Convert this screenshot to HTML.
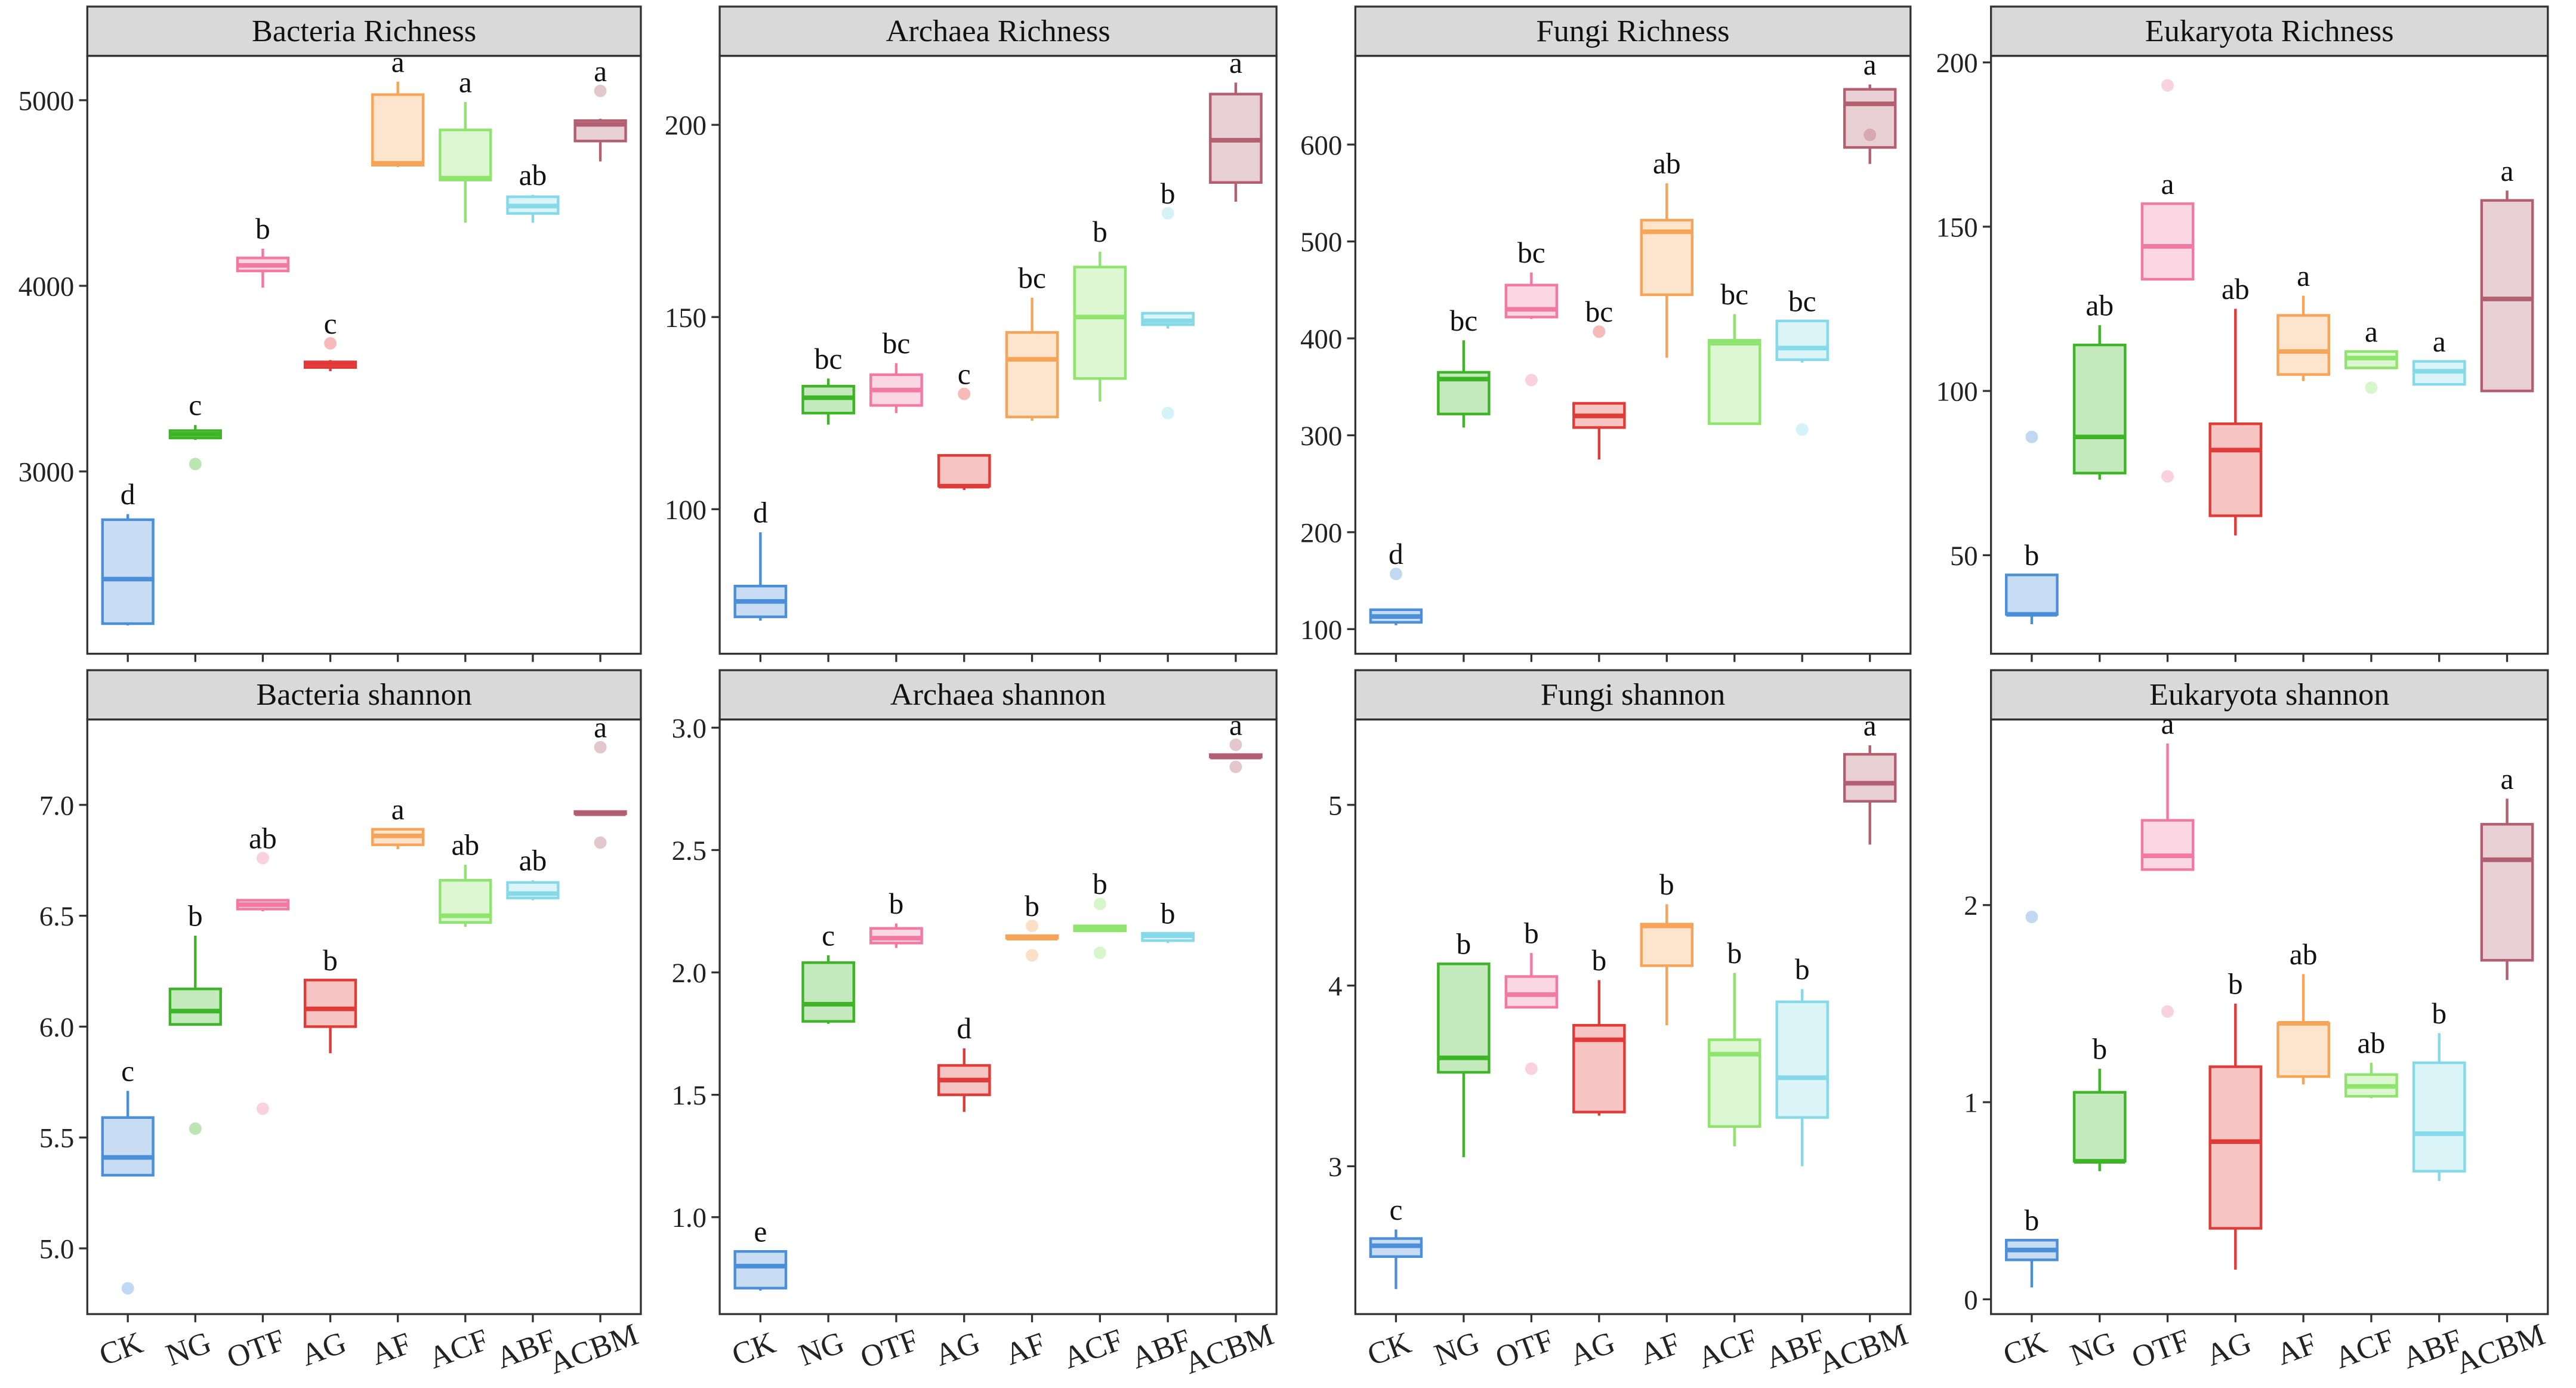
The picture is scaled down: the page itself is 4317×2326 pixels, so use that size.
<!DOCTYPE html>
<html><head><meta charset="utf-8">
<style>
html,body{margin:0;padding:0;background:#fff;}
svg{display:block;}
text{font-family:"Liberation Serif",serif;}
</style></head>
<body>
<svg id="chart" width="4317" height="2326" viewBox="0 0 1568 845" xmlns="http://www.w3.org/2000/svg"></svg>
<script>
const categories = ["CK","NG","OTF","AG","AF","ACF","ABF","ACBM"];
const colors = ["#4a8fd8","#3db526","#f27aa2","#e23a36","#f6a458","#8ee46c","#86d9e8","#b35f72"];
const panelTitles = ["Bacteria Richness","Archaea Richness","Fungi Richness","Eukaryota Richness","Bacteria shannon","Archaea shannon","Fungi shannon","Eukaryota shannon"];
const bacRichBoxes = [[2170,2180,2420,2740,2770],[3170,3180,3200,3220,3250],[3990,4080,4110,4150,4200],[3540,3560,3580,3590,3600],[4640,4650,4660,5030,5100],[4340,4570,4580,4840,4990],[4340,4390,4430,4480,4490],[4670,4780,4870,4890,4900]];
const bacRichOut = [[],[3040],[],[3690],[],[],[],[5050]];
const bacRichLetters = ["d","c","b","c","a","a","ab","a"];
const arcRichBoxes = [[71,72,76,80,94],[122,125,129,132,134],[125,127,131,135,138],[105,106,106,114,114],[123,124,139,146,155],[128,134,150,163,167],[147,148,149,151,151],[180,185,196,208,211]];
const arcRichOut = [[],[],[],[130],[],[],[177,125],[]];
const arcRichLetters = ["d","bc","bc","c","bc","b","b","a"];
const funRichBoxes = [[104,107,113,120,120],[308,322,358,365,398],[420,422,430,455,468],[275,308,320,333,333],[380,445,510,522,560],[312,312,395,398,425],[375,378,390,418,418],[580,597,642,657,662]];
const funRichOut = [[157],[],[357],[407],[],[],[306],[610]];
const funRichLetters = ["d","bc","bc","bc","ab","bc","bc","a"];
const eukRichBoxes = [[29,32,32,44,44],[73,75,86,114,120],[134,134,144,157,157],[56,62,82,90,125],[103,105,112,123,129],[107,107,110,112,112],[102,102,106,109,109],[100,100,128,158,161]];
const eukRichOut = [[86],[],[193,74],[],[],[101],[],[]];
const eukRichLetters = ["b","ab","a","ab","a","a","a","a"];
const bacShanBoxes = [[5.33,5.33,5.41,5.59,5.71],[6.01,6.01,6.07,6.17,6.41],[6.52,6.53,6.55,6.57,6.57],[5.88,6.00,6.08,6.21,6.21],[6.80,6.82,6.86,6.89,6.89],[6.45,6.47,6.50,6.66,6.73],[6.57,6.58,6.60,6.65,6.66],[6.96,6.96,6.96,6.97,6.97]];
const bacShanOut = [[4.82],[5.54],[6.76,5.63],[],[],[],[],[7.26,6.83]];
const bacShanLetters = ["c","b","ab","b","a","ab","ab","a"];
const arcShanBoxes = [[0.70,0.71,0.80,0.86,0.86],[1.79,1.80,1.87,2.04,2.07],[2.10,2.12,2.14,2.18,2.20],[1.43,1.50,1.56,1.62,1.69],[2.14,2.14,2.14,2.15,2.15],[2.17,2.17,2.18,2.19,2.19],[2.12,2.13,2.15,2.16,2.16],[2.88,2.88,2.88,2.89,2.89]];
const arcShanOut = [[],[],[],[],[2.07,2.19],[2.08,2.28],[],[2.84,2.93]];
const arcShanLetters = ["e","c","b","d","b","b","b","a"];
const funShanBoxes = [[2.32,2.50,2.56,2.60,2.65],[3.05,3.52,3.60,4.12,4.12],[3.88,3.88,3.95,4.05,4.18],[3.28,3.30,3.70,3.78,4.03],[3.78,4.11,4.33,4.34,4.45],[3.11,3.22,3.62,3.70,4.07],[3.00,3.27,3.49,3.91,3.98],[4.78,5.02,5.12,5.28,5.33]];
const funShanOut = [[],[],[3.54],[],[],[],[],[]];
const funShanLetters = ["c","b","b","b","b","b","b","a"];
const eukShanBoxes = [[0.06,0.20,0.25,0.30,0.30],[0.65,0.70,0.70,1.05,1.17],[2.18,2.18,2.25,2.43,2.82],[0.15,0.36,0.80,1.18,1.50],[1.09,1.13,1.40,1.40,1.65],[1.02,1.03,1.08,1.14,1.20],[0.60,0.65,0.84,1.20,1.35],[1.62,1.72,2.23,2.41,2.54]];
const eukShanOut = [[1.94],[],[1.46],[],[],[],[],[]];
const eukShanLetters = ["b","b","a","b","ab","ab","b","a"];
const bacRichTicks = [3000,4000,5000];
const arcRichTicks = [100,150,200];
const funRichTicks = [100,200,300,400,500,600];
const eukRichTicks = [50,100,150,200];
const bacShanTicks = [5.0,5.5,6.0,6.5,7.0];
const arcShanTicks = [1.0,1.5,2.0,2.5,3.0];
const funShanTicks = [3,4,5];
const eukShanTicks = [0,1,2];

const panels = [
 {x0:53,x1:390,top:34,bot:398,ref:[5000,61,3000,287],b:bacRichBoxes,o:bacRichOut,l:bacRichLetters,t:bacRichTicks,fmt:0,lo:1},
 {x0:438,x1:777,top:34,bot:398,ref:[200,76,100,310],b:arcRichBoxes,o:arcRichOut,l:arcRichLetters,t:arcRichTicks,fmt:0,lo:1},
 {x0:825,x1:1163,top:34,bot:398,ref:[600,88,100,383],b:funRichBoxes,o:funRichOut,l:funRichLetters,t:funRichTicks,fmt:0,lo:1},
 {x0:1212,x1:1551,top:34,bot:398,ref:[200,38,50,338],b:eukRichBoxes,o:eukRichOut,l:eukRichLetters,t:eukRichTicks,fmt:0,lo:0},
 {x0:53,x1:390,top:438,bot:800,ref:[7,490,5,760],b:bacShanBoxes,o:bacShanOut,l:bacShanLetters,t:bacShanTicks,fmt:1,lo:1},
 {x0:438,x1:777,top:438,bot:800,ref:[3,443,1,741],b:arcShanBoxes,o:arcShanOut,l:arcShanLetters,t:arcShanTicks,fmt:1,lo:1},
 {x0:825,x1:1163,top:438,bot:800,ref:[5,490,3,710],b:funShanBoxes,o:funShanOut,l:funShanLetters,t:funShanTicks,fmt:0,lo:1},
 {x0:1212,x1:1551,top:438,bot:800,ref:[2,551,0,791],b:eukShanBoxes,o:eukShanOut,l:eukShanLetters,t:eukShanTicks,fmt:0,lo:0}
];
const NS="http://www.w3.org/2000/svg";
const svg=document.getElementById('chart');
function mk(tag,attrs,parent){const e=document.createElementNS(NS,tag);for(const k in attrs)e.setAttribute(k,attrs[k]);(parent||svg).appendChild(e);return e;}
function slug(s){return s.toLowerCase().replace(/\s+/g,'-');}
panels.forEach((p,pi)=>{
  const name=slug(panelTitles[pi]);
  const g=mk('g',{});
  
  
  const yS=v=>p.ref[1]+(p.ref[0]-v)*(p.ref[3]-p.ref[1])/(p.ref[0]-p.ref[2]);
  const step=(p.x1-p.x0)/8.2;
  const xS=i=>p.x0+(0.6+i)*step;
  const hw=step*0.375;
  const hdr=mk('rect',{x:p.x0,y:p.top-30,width:p.x1-p.x0,height:30,fill:'#d9d9d9',stroke:'#333','stroke-width':1.2},g);
  
  
  const ht=mk('text',{x:(p.x0+p.x1)/2,y:p.top-9,'text-anchor':'middle','font-size':19,fill:'#111'},g);
  ht.textContent=panelTitles[pi];
  
  
  const br=mk('rect',{x:p.x0,y:p.top,width:p.x1-p.x0,height:p.bot-p.top,fill:'none',stroke:'#333','stroke-width':1.2},g);
  
  
  p.t.forEach(v=>{
    const y=yS(v);
    mk('line',{x1:p.x0-5,x2:p.x0,y1:y,y2:y,stroke:'#333','stroke-width':1.2},g);
    const tt=mk('text',{x:p.x0-8,y:y+6,'text-anchor':'end','font-size':17,fill:'#222'},g);
    tt.textContent=p.fmt?v.toFixed(1):String(v);
    
    
  });
  categories.forEach((c,i)=>{
    const x=xS(i);
    mk('line',{x1:x,x2:x,y1:p.bot,y2:p.bot+5,stroke:'#333','stroke-width':1.2},g);
    if(pi>=4){
      const cx=x-2, cy=p.bot+27;
      const xt=mk('text',{x:cx,y:cy,'text-anchor':'middle','font-size':19,fill:'#222',transform:`rotate(-20 ${cx} ${cy})`},g);
      xt.textContent=c;
      
      
    }
  });
  p.b.forEach((bx,i)=>{
    const x=xS(i),col=colors[i];
    const bg=mk('g',{},g);
    
    
    mk('line',{x1:x,x2:x,y1:yS(bx[0]),y2:yS(bx[1]),stroke:col,'stroke-width':1.6},bg);
    mk('line',{x1:x,x2:x,y1:yS(bx[3]),y2:yS(bx[4]),stroke:col,'stroke-width':1.6},bg);
    mk('rect',{x:x-hw,y:yS(bx[3]),width:2*hw,height:Math.max(yS(bx[1])-yS(bx[3]),0.5),fill:col,'fill-opacity':0.3,stroke:col,'stroke-width':1.6},bg);
    mk('line',{x1:x-hw,x2:x+hw,y1:yS(bx[2]),y2:yS(bx[2]),stroke:col,'stroke-width':2.8},bg);
    let top=yS(bx[4]);
    p.o[i].forEach(v=>{
      const c=mk('circle',{cx:x,cy:yS(v),r:3.8,fill:col,'fill-opacity':0.35},bg);
      
      
      if(p.lo) top=Math.min(top,yS(v));
    });
    const lt=mk('text',{x:x,y:top-6,'text-anchor':'middle','font-size':18,fill:'#111'},bg);
    lt.textContent=p.l[i];
    
    
  });
});
</script>
</body></html>
